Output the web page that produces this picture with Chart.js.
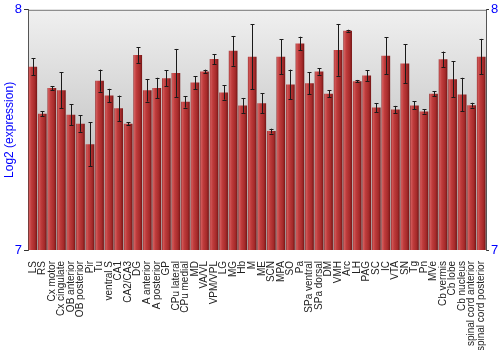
<!DOCTYPE html>
<html>
<head>
<meta charset="utf-8">
<script src="https://cdn.jsdelivr.net/npm/chart.js@4/dist/chart.umd.min.js"></script>
<style>
  html, body { margin: 0; padding: 0; background: #fff; }
  #wrap { width: 500px; height: 350px; }
</style>
</head>
<body>
<div id="wrap"><canvas id="c"></canvas></div>
<script>
const regions = [
  'LS', 'RS', 'Cx motor', 'Cx cingulate', 'OB anterior', 'OB posterior', 'Pir', 'Tu',
  'ventral S', 'CA1', 'CA2/CA3', 'DG', 'A anterior', 'A posterior', 'GP', 'CPu lateral',
  'CPu medial', 'MD', 'VA/VL', 'VPM/VPL', 'LG', 'MG', 'Hb', 'M', 'ME', 'SCN', 'MPA', 'SO',
  'Pa', 'SPa ventral', 'SPa dorsal', 'DM', 'VMH', 'Arc', 'LH', 'PAG', 'SC', 'IC', 'VTA',
  'SN', 'Tg', 'Pn', 'MVe', 'Cb vermis', 'Cb lobe', 'Cb nucleus', 'spinal cord anterior',
  'spinal cord posterior'
];

const expression = [
  7.763, 7.567, 7.674, 7.665, 7.563, 7.526, 7.440, 7.705,
  7.643, 7.590, 7.526, 7.812, 7.665, 7.674, 7.715, 7.737,
  7.617, 7.697, 7.743, 7.795, 7.656, 7.829, 7.602, 7.805, 7.611, 7.495, 7.805, 7.689,
  7.860, 7.694, 7.743, 7.650, 7.833, 7.913, 7.703, 7.726, 7.593, 7.809, 7.585,
  7.776, 7.602, 7.577, 7.651, 7.794, 7.711, 7.647, 7.603,
  7.805
];

const errors = [
  0.035, 0.010, 0.008, 0.074, 0.044, 0.034, 0.092, 0.046,
  0.028, 0.053, 0.005, 0.033, 0.047, 0.043, 0.033, 0.100,
  0.024, 0.027, 0.008, 0.021, 0.030, 0.062, 0.031, 0.135, 0.041, 0.010, 0.073, 0.062,
  0.028, 0.045, 0.013, 0.015, 0.108, 0.004, 0.005, 0.022, 0.019, 0.077, 0.015,
  0.081, 0.017, 0.009, 0.010, 0.032, 0.074, 0.070, 0.010,
  0.074
];

const yTicks = [7, 8];
const blue = '#0000ff';

// cylinder-like shading for each bar
function barGradient(ctx) {
  const chart = ctx.chart;
  const xs = chart.scales.x;
  if (!xs || !chart.chartArea) return '#b03030';
  const cx = xs.getPixelForValue(ctx.dataIndex);
  const w = (xs.width / regions.length) * 0.91;
  const g = chart.ctx.createLinearGradient(cx - w / 2, 0, cx + w / 2, 0);
  g.addColorStop(0, '#8e2424');
  g.addColorStop(0.12, '#d25a5a');
  g.addColorStop(0.35, '#bf3c3c');
  g.addColorStop(0.75, '#a52a2a');
  g.addColorStop(1, '#731515');
  return g;
}

const backdrop = {
  id: 'backdrop',
  beforeDraw(chart) {
    const { ctx, chartArea: a } = chart;
    const g = ctx.createLinearGradient(0, a.top, 0, a.bottom);
    g.addColorStop(0, '#f0f0f0');
    g.addColorStop(1, '#a8a8a8');
    ctx.save();
    ctx.fillStyle = g;
    ctx.fillRect(a.left, a.top, a.right - a.left, a.bottom - a.top);
    ctx.strokeStyle = '#777';
    ctx.lineWidth = 1;
    ctx.beginPath();
    ctx.moveTo(a.left, a.top + 0.5);
    ctx.lineTo(a.right, a.top + 0.5);
    ctx.stroke();
    ctx.restore();
  }
};

const errorBars = {
  id: 'errorBars',
  afterDatasetsDraw(chart) {
    const { ctx } = chart;
    const y = chart.scales.y;
    const meta = chart.getDatasetMeta(0);
    ctx.save();
    ctx.strokeStyle = '#1a1a1a';
    ctx.lineWidth = 1;
    meta.data.forEach((bar, i) => {
      const x = Math.round(bar.x) + 0.5;
      const top = y.getPixelForValue(expression[i] + errors[i]);
      const bot = y.getPixelForValue(expression[i] - errors[i]);
      ctx.beginPath();
      ctx.moveTo(x, top);
      ctx.lineTo(x, bot);
      ctx.moveTo(x - 2, Math.round(top) + 0.5);
      ctx.lineTo(x + 2, Math.round(top) + 0.5);
      ctx.moveTo(x - 2, Math.round(bot) + 0.5);
      ctx.lineTo(x + 2, Math.round(bot) + 0.5);
      ctx.stroke();
    });
    ctx.restore();
  }
};

new Chart(document.getElementById('c'), {
  type: 'bar',
  data: {
    labels: regions,
    datasets: [{
      data: expression,
      backgroundColor: barGradient,
      borderWidth: 0,
      barPercentage: 0.91,
      categoryPercentage: 1.0
    }]
  },
  options: {
    responsive: true,
    maintainAspectRatio: false,
    animation: false,
    layout: { padding: { top: 9, left: 0, right: 0, bottom: 0 } },
    plugins: {
      legend: { display: false },
      tooltip: { enabled: false }
    },
    scales: {
      x: {
        grid: { display: false },
        border: { display: false },
        ticks: {
          autoSkip: false,
          minRotation: 90,
          maxRotation: 90,
          padding: 3,
          color: '#222',
          font: { family: 'Liberation Sans, Arial, sans-serif', size: 10 }
        },
        afterFit(s) { s.height = 100; }
      },
      y: {
        position: 'left',
        min: 7,
        max: 8,
        afterBuildTicks(s) { s.ticks = yTicks.map(v => ({ value: v })); },
        grid: { drawOnChartArea: false, drawTicks: true, tickLength: 4, color: '#333' },
        border: { display: true, color: '#555', width: 1 },
        ticks: {
          color: blue,
          padding: 2,
          font: { family: 'Liberation Sans, Arial, sans-serif', size: 13 }
        },
        title: {
          display: true,
          text: 'Log2 (expression)',
          color: blue,
          padding: { top: 2, bottom: 0 },
          font: { family: 'Liberation Sans, Arial, sans-serif', size: 12 }
        },
        afterFit(s) { s.width = 28; }
      },
      y2: {
        position: 'right',
        min: 7,
        max: 8,
        afterBuildTicks(s) { s.ticks = yTicks.map(v => ({ value: v })); },
        grid: { drawOnChartArea: false, drawTicks: true, tickLength: 3, color: '#333' },
        border: { display: true, color: '#555', width: 1 },
        ticks: {
          color: blue,
          padding: 2,
          font: { family: 'Liberation Sans, Arial, sans-serif', size: 13 }
        },
        afterFit(s) { s.width = 14; }
      }
    }
  },
  plugins: [backdrop, errorBars]
});
</script>
</body>
</html>
